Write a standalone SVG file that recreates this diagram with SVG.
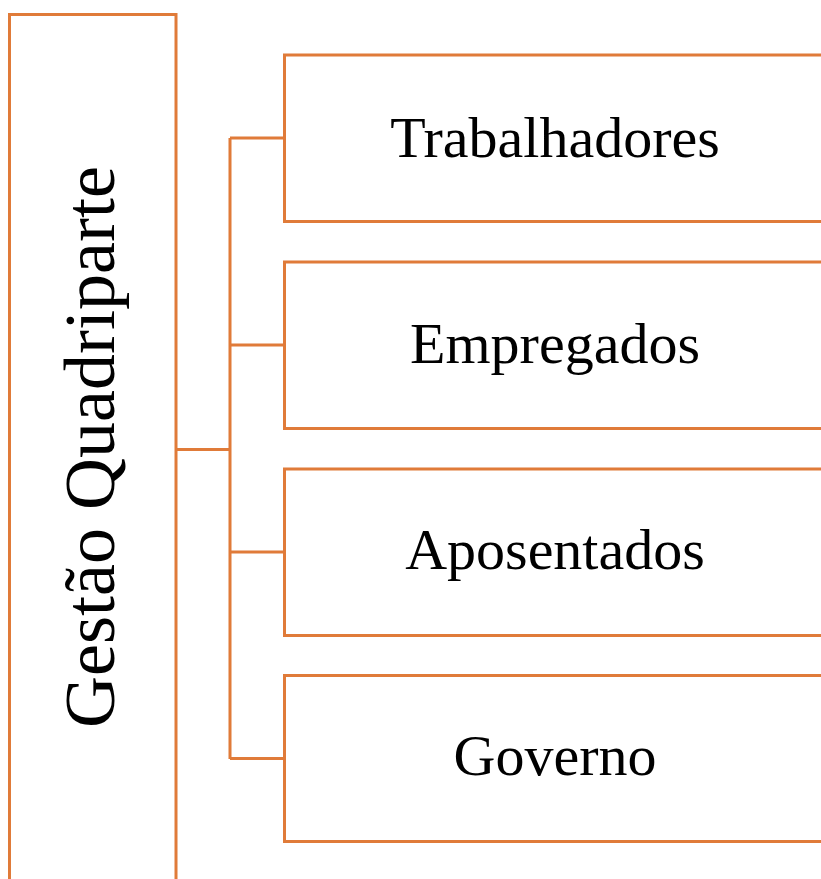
<svg xmlns="http://www.w3.org/2000/svg" width="821" height="879" viewBox="0 0 821 879">
<style>
.box{fill:#FFFFFF;stroke:#E07B39;stroke-width:3}
.ln{fill:none;stroke:#E07B39;stroke-width:3}
.t{font-family:"Liberation Serif","Times New Roman",serif;font-size:58px;fill:#000000;text-anchor:middle}
.tv{font-family:"Liberation Serif","Times New Roman",serif;font-size:72px;fill:#000000;text-anchor:middle}
</style>
<rect x="0" y="0" width="821" height="879" fill="#FFFFFF"/>
<g id="connectors">
<path class="ln" d="M176 449.5H230"/>
<path class="ln" d="M230 138V759"/>
<path class="ln" d="M230 138H284.5M230 345H284.5M230 552H284.5M230 758.5H284.5"/>
</g>
<g id="gestao">
<rect class="box" x="9.5" y="14.5" width="166.5" height="880"/>
<text class="tv" transform="translate(114,447) rotate(-90)">Gestão Quadriparte</text>
</g>
<g id="trabalhadores">
<rect class="box" x="284.5" y="55" width="560" height="166.5"/>
<text class="t" x="555" y="157">Trabalhadores</text>
</g>
<g id="empregados">
<rect class="box" x="284.5" y="262" width="560" height="166.5"/>
<text class="t" x="555" y="363">Empregados</text>
</g>
<g id="aposentados">
<rect class="box" x="284.5" y="469" width="560" height="166.5"/>
<text class="t" x="555" y="569">Aposentados</text>
</g>
<g id="governo">
<rect class="box" x="284.5" y="675.5" width="560" height="166"/>
<text class="t" x="555" y="775">Governo</text>
</g>
</svg>
